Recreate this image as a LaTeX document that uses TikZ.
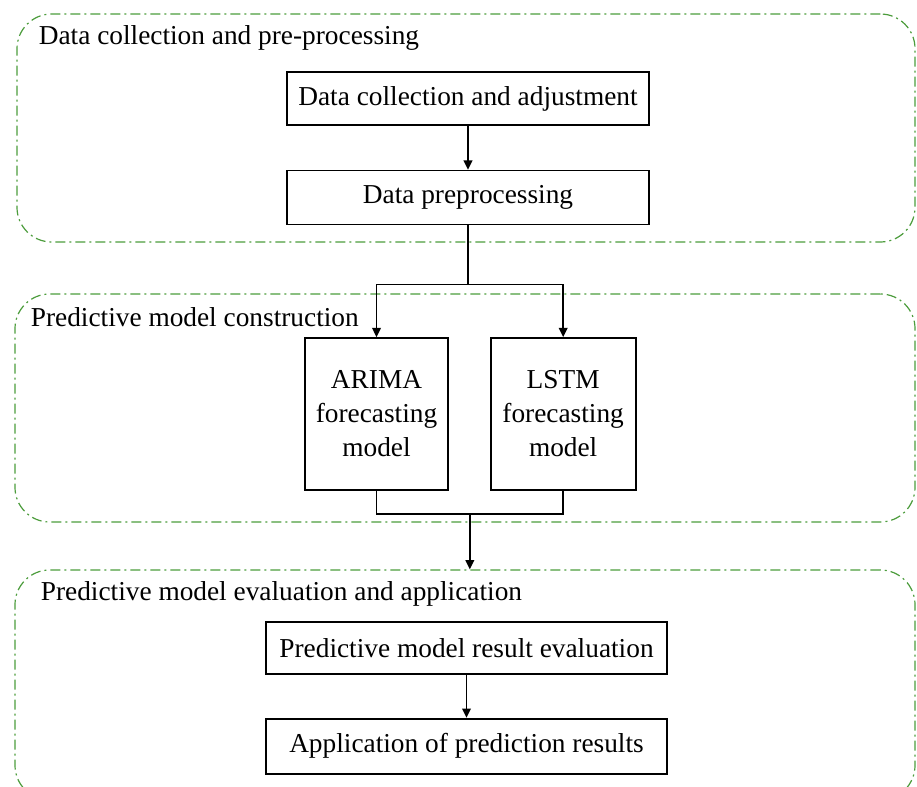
\documentclass[tikz,border=0pt]{standalone}
\usepackage{fontspec}
\setmainfont{Liberation Serif}
\usepackage{tikz}
\usetikzlibrary{positioning}
\usetikzlibrary{arrows.meta}
\usetikzlibrary{calc}
\definecolor{groupgreen}{RGB}{76,156,60}
\tikzset{task node/.style={rectangle,draw,inner sep=0pt,align=center,font=\fontsize{20.5}{25.5}\selectfont},
  group frame/.style={draw=groupgreen,line width=0.9pt,rounded corners=26pt,dash pattern=on 7.5pt off 3pt on 1.5pt off 3pt,inner sep=0pt},
  group label/.style={anchor=base west,inner sep=0pt,font=\fontsize{20.5}{24.75}\selectfont},}

\begin{document}
\begin{tikzpicture}[>={Triangle[length=7pt,width=6.5pt]}, x=0.75pt, y=-0.75pt, line width=1.25pt]
	\useasboundingbox (0,0) rectangle (917,787);
	% stage frames
	\node[group frame, minimum width=673.5pt, minimum height=171pt] (grp1) at (466,128) {};
	\node[group frame, minimum width=675pt, minimum height=171pt] (grp2) at (465,408) {};
	\node[group frame, minimum width=675pt, minimum height=172.5pt] (grp3) at (465,685) {};
	\node[group label] (lab1) at (38,45) {Data collection and pre-processing};
	\node[group label] (lab2) at (30,327) {Predictive model construction};
	\node[group label] (lab3) at (40,600) {Predictive model evaluation and application};

	% steps
	\node[task node, minimum width=271.5pt, minimum height=39.75pt] (collect) at (468,98.5) {Data collection and adjustment};
	\node[task node, minimum width=271.5pt, minimum height=40.5pt] (prep) [below = 33pt of collect] {Data preprocessing};
	\node[task node, minimum width=107.25pt, minimum height=114pt] (arima) at (376.5,414) {ARIMA\\forecasting\\model};
	\node[task node, minimum width=108.75pt, minimum height=114pt] (lstm) [right = 30.75pt of arima] {LSTM\\forecasting\\model};
	\node[task node, minimum width=300.75pt, minimum height=39pt] (evalres) at (466.5,648) {Predictive model result evaluation};
	\node[task node, minimum width=300.75pt, minimum height=41.25pt] (apply) [below = 32.25pt of evalres] {Application of prediction results};

	\coordinate (split) at ($(prep.south)+(0,59)$);
	\coordinate (merge) at ($(arima.south)!0.5!(lstm.south)+(0,23)$);

	\draw[->] (collect) -- (prep);
	\draw (prep.south) -- (split);
	\draw[->] (split) -| (arima.north);
	\draw[->] (split) -| (lstm.north);
	\draw (arima.south) |- (merge) -| (lstm.south);
	\draw[->] (merge) -- (merge |- grp3.north);
	\draw[->] (evalres) -- (apply);
\end{tikzpicture}
\end{document}
